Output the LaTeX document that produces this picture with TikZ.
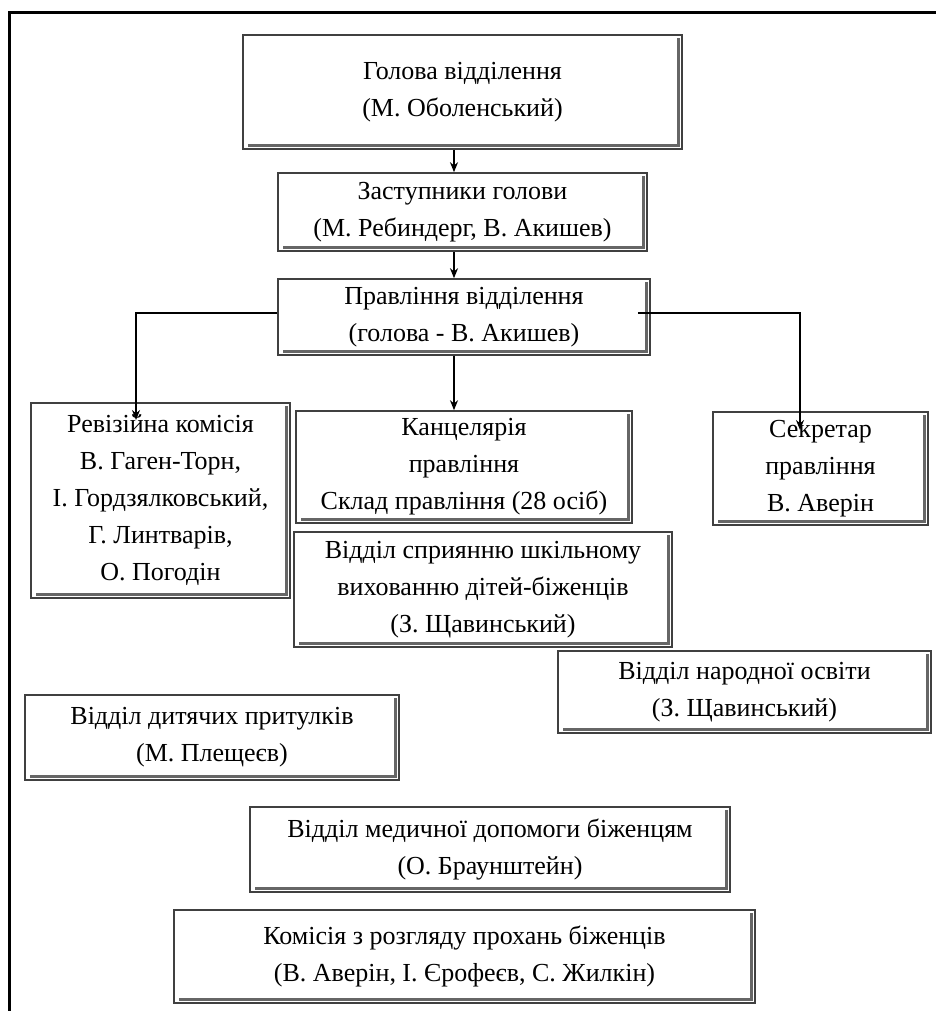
\documentclass[tikz,border=0pt]{standalone}
\usepackage{fontspec}
\setmainfont{Liberation Serif}
\usetikzlibrary{arrows.meta}

\tikzset{
  unit/.style={draw=black!75, line width=0.8pt, align=center, inner sep=0pt,
    font=\fontsize{13}{18.5}\selectfont},
  rim/.style={draw=black!60, line width=1.6pt},
  link/.style={line width=0.8pt, -{Stealth[length=5pt,width=4pt]}},
  frame/.style={line width=1.5pt}
}

\begin{document}
\begin{tikzpicture}[x=0.5pt, y=-0.5pt]
\useasboundingbox (0,0) rectangle (936,1011);
% outer frame
\coordinate (fa) at (9.5,1011);
\coordinate (fb) at (9.5,12.5);
\coordinate (fc) at (936,12.5);
\draw[frame] (fa) -- (fb) -- (fc);

% boxes
\node[unit, minimum width=219.5pt, minimum height=57pt] (head) at (462.5,92)
  {Голова відділення\\(М. Оболенський)};
\node[unit, minimum width=184.5pt, minimum height=39pt] (deputies) at (462.5,212)
  {Заступники голови\\(М. Ребиндерг, В. Акишев)};
\node[unit, minimum width=186pt, minimum height=38pt] (board) at (464,317)
  {Правління відділення\\(голова - В. Акишев)};
\node[unit, minimum width=129.5pt, minimum height=97.5pt] (audit) at (160.5,500.5)
  {Ревізійна комісія\\В. Гаген-Торн,\\І. Гордзялковський,\\Г. Линтварів,\\О. Погодін};
\node[unit, minimum width=168pt, minimum height=56pt] (office) at (464,467)
  {Канцелярія\\правління\\Склад правління (28 осіб)};
\node[unit, minimum width=107.5pt, minimum height=56.5pt] (secretary) at (820.5,468.5)
  {Секретар\\правління\\В. Аверін};
\node[unit, minimum width=189pt, minimum height=57.5pt] (school) at (483,589.5)
  {Відділ сприянню шкільному\\вихованню дітей-біженців\\(З. Щавинський)};
\node[unit, minimum width=186.5pt, minimum height=41pt] (education) at (744.5,692)
  {Відділ народної освіти\\(З. Щавинський)};
\node[unit, minimum width=187pt, minimum height=42.5pt] (shelters) at (212,737.5)
  {Відділ дитячих притулків\\(М. Плещеєв)};
\node[unit, minimum width=240pt, minimum height=42.5pt] (medical) at (490,849.5)
  {Відділ медичної допомоги біженцям\\(О. Браунштейн)};
\node[unit, minimum width=290.5pt, minimum height=46.5pt] (petitions) at (464.5,956.5)
  {Комісія з розгляду прохань біженців\\(В. Аверін, І. Єрофеєв, С. Жилкін)};

% inner edges of the frames
\foreach \n in {head,deputies,board,audit,office,secretary,school,education,shelters,medical,petitions}
  \draw[rim] ([shift={(-4,4)}]\n.north east) -- ([shift={(-4,-4)}]\n.south east)
    -- ([shift={(6,-4)}]\n.south west);

% connectors
\coordinate (spine) at (454,0);
\coordinate (auditin) at (136,420);
\coordinate (secin) at (800,430);
\draw[link] (spine |- head.south) -- (spine |- deputies.north);
\draw[link] (spine |- deputies.south) -- (spine |- board.north);
\draw[link] (spine |- board.south) -- (spine |- office.north);
\draw[link] ([yshift=2pt]board.west) -| (auditin);
\draw[link] ([xshift=-6.5pt,yshift=2pt]board.east) -| (secin);
\end{tikzpicture}
\end{document}
